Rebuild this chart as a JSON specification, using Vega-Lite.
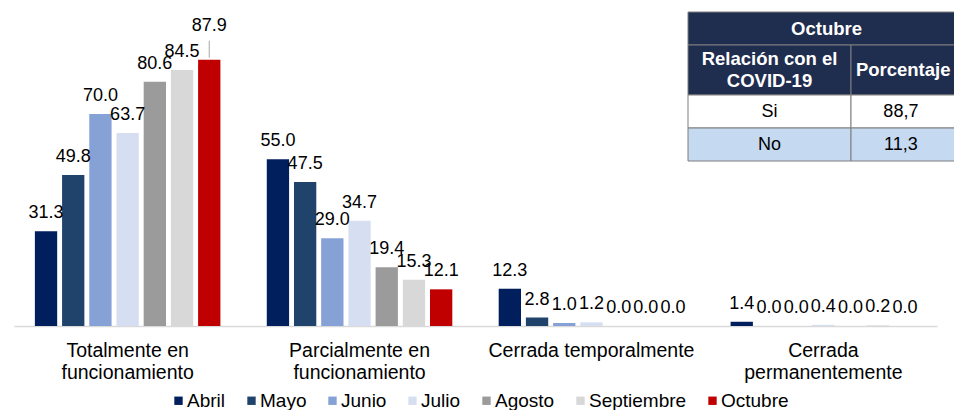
{
  "$schema": "https://vega.github.io/schema/vega-lite/v6.json",
  "width": 923,
  "height": 303,
  "autosize": {"type": "none"},
  "padding": {"left": 14, "top": 23, "right": 17, "bottom": 84},
  "background": "white",
  "config": {"view": {"stroke": null}, "font": "Liberation Sans"},
  "datasets": {
    "barras": [
      {"situacion": "Totalmente en funcionamiento", "mes": "Abril", "valor": 31.3},
      {"situacion": "Totalmente en funcionamiento", "mes": "Mayo", "valor": 49.8},
      {"situacion": "Totalmente en funcionamiento", "mes": "Junio", "valor": 70.0},
      {"situacion": "Totalmente en funcionamiento", "mes": "Julio", "valor": 63.7},
      {"situacion": "Totalmente en funcionamiento", "mes": "Agosto", "valor": 80.6},
      {"situacion": "Totalmente en funcionamiento", "mes": "Septiembre", "valor": 84.5},
      {"situacion": "Totalmente en funcionamiento", "mes": "Octubre", "valor": 87.9},
      {"situacion": "Parcialmente en funcionamiento", "mes": "Abril", "valor": 55.0},
      {"situacion": "Parcialmente en funcionamiento", "mes": "Mayo", "valor": 47.5},
      {"situacion": "Parcialmente en funcionamiento", "mes": "Junio", "valor": 29.0},
      {"situacion": "Parcialmente en funcionamiento", "mes": "Julio", "valor": 34.7},
      {"situacion": "Parcialmente en funcionamiento", "mes": "Agosto", "valor": 19.4},
      {"situacion": "Parcialmente en funcionamiento", "mes": "Septiembre", "valor": 15.3},
      {"situacion": "Parcialmente en funcionamiento", "mes": "Octubre", "valor": 12.1},
      {"situacion": "Cerrada temporalmente", "mes": "Abril", "valor": 12.3},
      {"situacion": "Cerrada temporalmente", "mes": "Mayo", "valor": 2.8},
      {"situacion": "Cerrada temporalmente", "mes": "Junio", "valor": 1.0},
      {"situacion": "Cerrada temporalmente", "mes": "Julio", "valor": 1.2},
      {"situacion": "Cerrada temporalmente", "mes": "Agosto", "valor": 0.0},
      {"situacion": "Cerrada temporalmente", "mes": "Septiembre", "valor": 0.0},
      {"situacion": "Cerrada temporalmente", "mes": "Octubre", "valor": 0.0},
      {"situacion": "Cerrada permanentemente", "mes": "Abril", "valor": 1.4},
      {"situacion": "Cerrada permanentemente", "mes": "Mayo", "valor": 0.0},
      {"situacion": "Cerrada permanentemente", "mes": "Junio", "valor": 0.0},
      {"situacion": "Cerrada permanentemente", "mes": "Julio", "valor": 0.4},
      {"situacion": "Cerrada permanentemente", "mes": "Agosto", "valor": 0.0},
      {"situacion": "Cerrada permanentemente", "mes": "Septiembre", "valor": 0.2},
      {"situacion": "Cerrada permanentemente", "mes": "Octubre", "valor": 0.0}
    ],
    "tabla": [
      {"texto": "Octubre", "tipo": "enc", "c0": 0, "c1": 2, "r0": 0, "r1": 1, "cx": 0.85, "cy": 0.5},
      {"texto": "Relación con el\nCOVID-19", "tipo": "enc", "c0": 0, "c1": 1, "r0": 1, "r1": 2, "cx": 0.5, "cy": 1.27},
      {"texto": "Porcentaje", "tipo": "enc", "c0": 1, "c1": 2, "r0": 1, "r1": 2, "cx": 1.45, "cy": 1.5},
      {"texto": "Si", "tipo": "blanco", "c0": 0, "c1": 1, "r0": 2, "r1": 3, "cx": 0.5, "cy": 2.5},
      {"texto": "88,7", "tipo": "blanco", "c0": 1, "c1": 2, "r0": 2, "r1": 3, "cx": 1.43, "cy": 2.5},
      {"texto": "No", "tipo": "azul", "c0": 0, "c1": 1, "r0": 3, "r1": 4, "cx": 0.5, "cy": 3.5},
      {"texto": "11,3", "tipo": "azul", "c0": 1, "c1": 2, "r0": 3, "r1": 4, "cx": 1.43, "cy": 3.5}
    ]
  },
  "layer": [
    {
      "data": {"name": "barras"},
      "encoding": {
        "x": {
          "field": "situacion",
          "type": "nominal",
          "sort": ["Totalmente en funcionamiento", "Parcialmente en funcionamiento", "Cerrada temporalmente", "Cerrada permanentemente"],
          "scale": {"paddingInner": 0.2, "paddingOuter": 0.09},
          "axis": {
            "title": null,
            "labelAngle": 0,
            "ticks": false,
            "domainColor": "#d9d9d9",
            "domainWidth": 1.5,
            "labelFontSize": 19.5,
            "labelColor": "#000000",
            "labelPadding": 15,
            "labelBaseline": "top",
            "labelLineHeight": 22,
            "labelLimit": 400,
            "labelOverlap": false,
            "labelExpr": "datum.value == 'Totalmente en funcionamiento' ? ['Totalmente en', 'funcionamiento'] : datum.value == 'Parcialmente en funcionamiento' ? ['Parcialmente en', 'funcionamiento'] : datum.value == 'Cerrada permanentemente' ? ['Cerrada', 'permanentemente'] : datum.label"
          }
        },
        "xOffset": {
          "field": "mes",
          "type": "nominal",
          "sort": ["Abril", "Mayo", "Junio", "Julio", "Agosto", "Septiembre", "Octubre"],
          "scale": {"paddingInner": 0.18}
        },
        "y": {"field": "valor", "type": "quantitative", "scale": {"domain": [0, 100], "nice": false}, "axis": null}
      },
      "layer": [
        {
          "mark": {"type": "bar"},
          "encoding": {
            "color": {
              "field": "mes",
              "type": "nominal",
              "sort": ["Abril", "Mayo", "Junio", "Julio", "Agosto", "Septiembre", "Octubre"],
              "scale": {
                "domain": ["Abril", "Mayo", "Junio", "Julio", "Agosto", "Septiembre", "Octubre"],
                "range": ["#001f5c", "#1f436b", "#86a1d6", "#d6dff1", "#9b9b9b", "#d8d8d8", "#c00000"]
              },
              "legend": {
                "orient": "none",
                "legendX": 155,
                "legendY": 368,
                "direction": "horizontal",
                "title": null,
                "symbolType": "square",
                "symbolSize": 70,
                "symbolStrokeWidth": 0,
                "labelFontSize": 19,
                "labelColor": "#000000",
                "labelOffset": -1,
                "columnPadding": 16
              }
            }
          }
        },
        {
          "transform": [{"filter": "!(datum.situacion == 'Totalmente en funcionamiento' && datum.mes == 'Octubre')"}],
          "mark": {"type": "text", "dy": -18, "fontSize": 18, "baseline": "middle", "color": "#000000"},
          "encoding": {"text": {"field": "valor", "type": "quantitative", "format": ".1f"}}
        },
        {
          "transform": [{"filter": "datum.situacion == 'Totalmente en funcionamiento' && datum.mes == 'Octubre'"}],
          "mark": {"type": "text", "dy": -34, "fontSize": 18, "baseline": "middle", "color": "#000000"},
          "encoding": {"text": {"field": "valor", "type": "quantitative", "format": ".1f"}}
        },
        {
          "transform": [{"filter": "datum.situacion == 'Totalmente en funcionamiento' && datum.mes == 'Octubre'"}],
          "mark": {"type": "rule", "color": "#a6a6a6", "strokeWidth": 1, "yOffset": -2, "y2Offset": -19},
          "encoding": {"y2": {"field": "valor"}}
        }
      ]
    },
    {
      "data": {"name": "tabla"},
      "layer": [
        {
          "mark": {"type": "rect", "stroke": "#7f7f7f", "strokeWidth": 1},
          "encoding": {
            "x": {"field": "c0", "type": "quantitative", "scale": {"domain": [0, 1, 2], "range": [674, 837, 953], "nice": false, "zero": false}, "axis": null},
            "x2": {"field": "c1"},
            "y": {"field": "r0", "type": "quantitative", "scale": {"domain": [0, 1, 2, 3, 4], "range": [-11, 22, 72, 105, 138], "nice": false, "zero": false}, "axis": null},
            "y2": {"field": "r1"},
            "fill": {
              "field": "tipo",
              "type": "nominal",
              "scale": {"domain": ["enc", "blanco", "azul"], "range": ["#1f2d4e", "#ffffff", "#c5d9f1"]},
              "legend": null
            }
          }
        },
        {
          "transform": [{"filter": "datum.tipo == 'enc'"}],
          "mark": {"type": "text", "fontSize": 18.5, "fontWeight": "bold", "color": "#ffffff", "baseline": "middle", "align": "center", "lineBreak": "\n", "lineHeight": 22},
          "encoding": {
            "x": {"field": "cx", "type": "quantitative", "scale": {"domain": [0, 1, 2], "range": [674, 837, 953], "nice": false, "zero": false}, "axis": null},
            "y": {"field": "cy", "type": "quantitative", "scale": {"domain": [0, 1, 2, 3, 4], "range": [-11, 22, 72, 105, 138], "nice": false, "zero": false}, "axis": null},
            "text": {"field": "texto"}
          }
        },
        {
          "transform": [{"filter": "datum.tipo != 'enc'"}],
          "mark": {"type": "text", "fontSize": 18, "color": "#000000", "baseline": "middle", "align": "center"},
          "encoding": {
            "x": {"field": "cx", "type": "quantitative", "scale": {"domain": [0, 1, 2], "range": [674, 837, 953], "nice": false, "zero": false}, "axis": null},
            "y": {"field": "cy", "type": "quantitative", "scale": {"domain": [0, 1, 2, 3, 4], "range": [-11, 22, 72, 105, 138], "nice": false, "zero": false}, "axis": null},
            "text": {"field": "texto"}
          }
        }
      ]
    }
  ],
  "resolve": {"scale": {"x": "independent", "y": "independent", "color": "independent"}}
}
